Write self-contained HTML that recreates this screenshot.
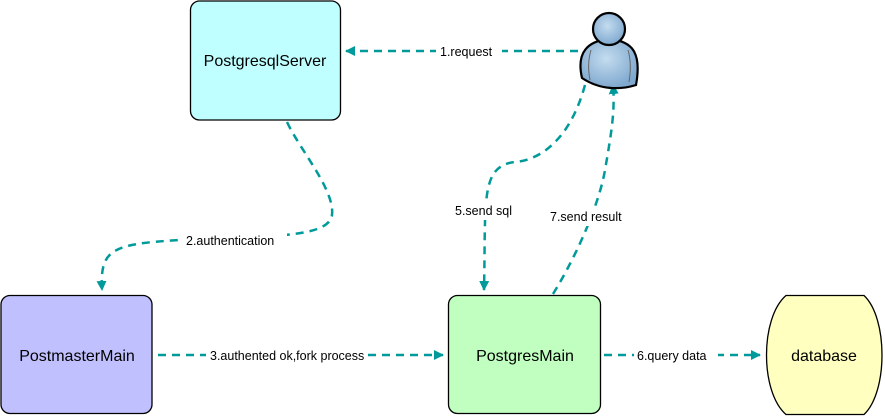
<!DOCTYPE html>
<html><head><style>html,body{margin:0;padding:0;background:#fff;}svg{display:block}</style></head>
<body>
<svg width="885" height="416" viewBox="0 0 885 416" xmlns="http://www.w3.org/2000/svg" font-family="Liberation Sans, sans-serif">
<defs>
<radialGradient id="g" cx="0.45" cy="0.4" r="0.6"><stop offset="0" stop-color="#c4dcef"/><stop offset="1" stop-color="#7fa9cf"/></radialGradient>
<marker id="a" viewBox="0 0 10 10" refX="9" refY="5" markerWidth="4" markerHeight="4" orient="auto"><path d="M0,0 L10,5 L0,10 z" fill="#009a9a"/></marker>
</defs>
<rect x="190.5" y="1" width="150" height="119" rx="9" fill="#c0ffff" stroke="#000" stroke-width="1.3"/>
<text x="265" y="66" font-size="16" text-anchor="middle">PostgresqlServer</text>
<rect x="1" y="295.5" width="151" height="118" rx="9" fill="#c0c0ff" stroke="#000" stroke-width="1.3"/>
<text x="77" y="361" font-size="16" text-anchor="middle">PostmasterMain</text>
<rect x="448.5" y="295.5" width="152" height="118" rx="9" fill="#c0ffc0" stroke="#000" stroke-width="1.3"/>
<text x="525" y="361" font-size="16" text-anchor="middle">PostgresMain</text>
<path d="M786,295.5 L864,295.5 C888,318 888,392 864,414.5 L786,414.5 C760,392 760,318 786,295.5 Z" fill="#ffffc0" stroke="#000" stroke-width="1.3"/>
<text x="824" y="361" font-size="16" text-anchor="middle">database</text>
<g fill="none" stroke="#009a9a" stroke-width="2.5" stroke-dasharray="8,6" marker-end="url(#a)">
<path d="M578,51 L346,51"/>
<path d="M287,122 C300,150 335,190 332,215 C328,240 260,235 180,240 C110,244 100,250 102,290"/>
<path d="M158,355 L443,355"/>
<path d="M604,355 L760,355"/>
<path d="M585,85 C570,140 540,160 515,162 C480,166 486,200 484,290"/>
<path d="M553,294 C580,250 600,200 605,170 C612,130 615,110 613,85"/>
</g>
<g font-size="12.5" fill="#000">
<rect x="436" y="42" width="66" height="18" fill="#fff"/><text x="440" y="56">1.request</text>
<rect x="183" y="232" width="104" height="18" fill="#fff"/><text x="186" y="245">2.authentication</text>
<rect x="206" y="346" width="160" height="18" fill="#fff"/><text x="210" y="360">3.authented ok,fork process</text>
<rect x="634" y="346" width="84" height="18" fill="#fff"/><text x="637" y="360">6.query data</text>
<rect x="452" y="202" width="66" height="18" fill="#fff"/><text x="455" y="215">5.send sql</text>
<rect x="548" y="208" width="84" height="18" fill="#fff"/><text x="550" y="221">7.send result</text>
</g>
<g stroke="#000" stroke-width="2.2">
<path d="M582,78 C576,52 588,41 609,39 C632,41 642,52 636,85 C620,90 600,90 582,78 Z" fill="url(#g)"/>
<circle cx="609" cy="29" r="16" fill="url(#g)"/>
</g>
<path d="M591,50 C588,60 588,70 590,80 M628,50 C631,60 631,70 629,82" stroke="#666" fill="none" stroke-width="1"/>
</svg>
</body></html>
